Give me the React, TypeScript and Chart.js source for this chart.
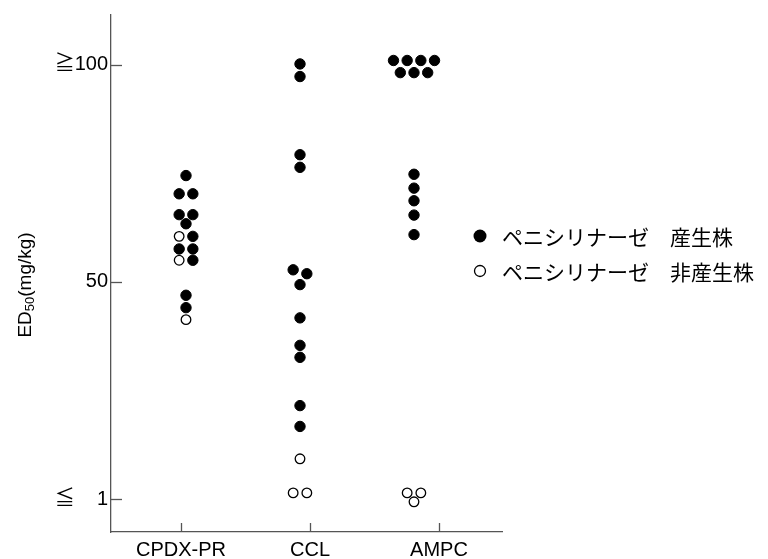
import React, { useEffect, useRef } from 'react';
import { Chart, registerables } from 'chart.js';

Chart.register(...registerables);

// ---- Data ----
const categories = ['CPDX-PR', 'CCL', 'AMPC'];
const yTickValues = [1, 50, 100];
const yTickLabels = ['≦    1', '50', '≧100'];
const seriesLabels = ['ペニシリナーゼ　産生株', 'ペニシリナーゼ　非産生株'];

// ED50 (mg/kg), per drug
const cpdxProducing = [74.5, 70.3, 70.3, 65.5, 65.5, 63.4, 60.5, 57.6, 57.6, 55.0, 47.0, 44.2];
const cpdxNonProducing = [60.5, 55.0, 41.5];
const cclProducing = [100.2, 97.3, 79.3, 76.4, 52.8, 51.9, 49.4, 41.9, 35.7, 33.0, 22.1, 17.4];
const cclNonProducing = [10.1, 2.4, 2.4];
const ampcProducing = [101, 101, 101, 101, 98.2, 98.2, 98.2, 74.8, 71.6, 68.7, 65.4, 60.9];
const ampcNonProducing = [2.4, 2.4, 0.4];

const producingByCat = [cpdxProducing, cclProducing, ampcProducing];
const nonProducingByCat = [cpdxNonProducing, cclNonProducing, ampcNonProducing];

// The figure's axis is piecewise: 1 -> 50 and 50 -> 100 take equal length.
const toAxis = (v: number) => (v <= 50 ? (v - 1) / 49 : 1 + (v - 50) / 50);

// Simple dot-plot dodge: values that fall on the same row are spread side by side.
const ROW_GAP = 0.03;
const STEP = 0.12;

type P = { u: number; open: boolean };
function dodge() {
  const filled: { x: number; y: number }[] = [];
  const open: { x: number; y: number }[] = [];
  categories.forEach((_, ci) => {
    const pts: P[] = [
      ...producingByCat[ci].map((v) => ({ u: toAxis(v), open: false })),
      ...nonProducingByCat[ci].map((v) => ({ u: toAxis(v), open: true })),
    ].sort((a, b) => b.u - a.u);
    const rows: P[][] = [];
    pts.forEach((p) => {
      const last = rows[rows.length - 1];
      if (last && last[0].u - p.u < ROW_GAP) last.push(p);
      else rows.push([p]);
    });
    rows.forEach((row) => {
      const ordered = [...row.filter((p) => p.open), ...row.filter((p) => !p.open)];
      const n = ordered.length;
      ordered.forEach((p, i) => {
        const pt = { x: ci + (i - (n - 1) / 2) * STEP, y: p.u };
        (p.open ? open : filled).push(pt);
      });
    });
  });
  return { filled, open };
}

const LABEL_FONT = "'Liberation Sans', Arial, 'Noto Sans CJK JP', sans-serif";
const CJK_FONT = "'Noto Sans CJK JP', 'Liberation Sans', sans-serif";
const AXIS_COLOR = '#555';

const decorPlugin = {
  id: 'decor',
  afterDraw(chart: any) {
    const ctx = chart.ctx as CanvasRenderingContext2D;
    const area = chart.chartArea;
    const ys = chart.scales.y;
    const xs = chart.scales.x;
    ctx.save();
    // inward ticks
    ctx.strokeStyle = AXIS_COLOR;
    ctx.lineWidth = 1.3;
    ys.ticks.forEach((t: any) => {
      const py = Math.round(ys.getPixelForValue(t.value)) + 0.5;
      ctx.beginPath();
      ctx.moveTo(area.left, py);
      ctx.lineTo(area.left + 11, py);
      ctx.stroke();
    });
    xs.ticks.forEach((t: any) => {
      const px = Math.round(xs.getPixelForValue(t.value)) + 0.5;
      ctx.beginPath();
      ctx.moveTo(px, area.bottom);
      ctx.lineTo(px, area.bottom - 9);
      ctx.stroke();
    });

    // y axis title with subscript
    const cy = ys.getPixelForValue(toAxis(50)) + 3;
    ctx.translate(25, cy);
    ctx.rotate(-Math.PI / 2);
    ctx.fillStyle = '#000';
    ctx.textBaseline = 'alphabetic';
    ctx.textAlign = 'left';
    const big = `19px ${LABEL_FONT}`;
    const small = `13px ${LABEL_FONT}`;
    ctx.font = big;
    const w1 = ctx.measureText('ED').width;
    const w3 = ctx.measureText('(mg/kg)').width;
    ctx.font = small;
    const w2 = ctx.measureText('50').width;
    let x0 = -(w1 + w2 + w3) / 2;
    ctx.font = big;
    ctx.fillText('ED', x0, 6);
    x0 += w1;
    ctx.font = small;
    ctx.fillText('50', x0, 9);
    x0 += w2;
    ctx.font = big;
    ctx.fillText('(mg/kg)', x0, 6);
    ctx.setTransform(1, 0, 0, 1, 0, 0);

    // legend
    const mx = area.right - 22;
    const tx = area.right;
    const rowY = [236, 271];
    ctx.font = `21px ${CJK_FONT}`;
    ctx.textBaseline = 'middle';
    ctx.fillStyle = '#000';
    rowY.forEach((yy, i) => {
      ctx.beginPath();
      if (i === 0) {
        ctx.arc(mx, yy, 6.5, 0, Math.PI * 2);
        ctx.fillStyle = '#000';
        ctx.fill();
      } else {
        ctx.arc(mx, yy, 5.5, 0, Math.PI * 2);
        ctx.fillStyle = '#fff';
        ctx.fill();
        ctx.strokeStyle = '#000';
        ctx.lineWidth = 1.3;
        ctx.stroke();
      }
      ctx.fillStyle = '#000';
      ctx.fillText(seriesLabels[i], tx, yy + 1);
    });
    ctx.restore();
  },
};

export default function App() {
  const ref = useRef<HTMLCanvasElement | null>(null);
  useEffect(() => {
    if (!ref.current) return;
    const { filled, open } = dodge();
    const chart = new Chart(ref.current, {
      type: 'scatter',
      data: {
        datasets: [
          {
            label: seriesLabels[0],
            data: filled,
            xAxisID: 'xd',
            yAxisID: 'y',
            pointRadius: 5.2,
            pointBorderWidth: 1,
            backgroundColor: '#000',
            borderColor: '#000',
            clip: false as any,
          },
          {
            label: seriesLabels[1],
            data: open,
            xAxisID: 'xd',
            yAxisID: 'y',
            pointRadius: 4.8,
            pointBorderWidth: 1.3,
            backgroundColor: '#fff',
            borderColor: '#000',
            clip: false as any,
          },
        ],
      },
      options: {
        responsive: false,
        animation: false,
        devicePixelRatio: 1,
        layout: { padding: { top: 13, right: 266, left: 0, bottom: 0 } },
        plugins: { legend: { display: false }, tooltip: { enabled: false } },
        scales: {
          x: {
            type: 'linear',
            position: 'bottom',
            min: -0.5426,
            max: 2.4884,
            bounds: 'data',
            afterBuildTicks: (s: any) => {
              s.ticks = categories.map((_, i) => ({ value: i }));
            },
            afterFit: (s: any) => {
              s.height = 27;
            },
            grid: { display: false, drawTicks: false },
            border: { display: true, color: AXIS_COLOR, width: 1.3 },
            ticks: {
              autoSkip: false,
              maxRotation: 0,
              minRotation: 0,
              padding: 6,
              color: '#000',
              font: { family: LABEL_FONT, size: 20 },
              callback: (_v: any, i: number) => categories[i],
            },
          },
          xd: {
            type: 'linear',
            display: false,
            min: -0.6579,
            max: 2.7719,
          },
          y: {
            type: 'linear',
            position: 'left',
            min: -0.1514,
            max: 2.2294,
            bounds: 'data',
            afterBuildTicks: (s: any) => {
              s.ticks = yTickValues.map((v) => ({ value: toAxis(v) }));
            },
            afterFit: (s: any) => {
              s.width = 111;
            },
            grid: { display: false, drawTicks: false },
            border: { display: true, color: AXIS_COLOR, width: 1.3 },
            ticks: {
              padding: 3,
              color: '#000',
              font: { family: LABEL_FONT, size: 20 },
              callback: (_v: any, i: number) => yTickLabels[i],
            },
          },
        },
      } as any,
      plugins: [decorPlugin],
    });
    return () => chart.destroy();
  }, []);
  return (
    <div style={{ position: 'fixed', left: 0, top: 0, width: 768, height: 559, background: '#fff' }}>
      <canvas ref={ref} width={768} height={559} style={{ display: 'block' }} />
    </div>
  );
}
